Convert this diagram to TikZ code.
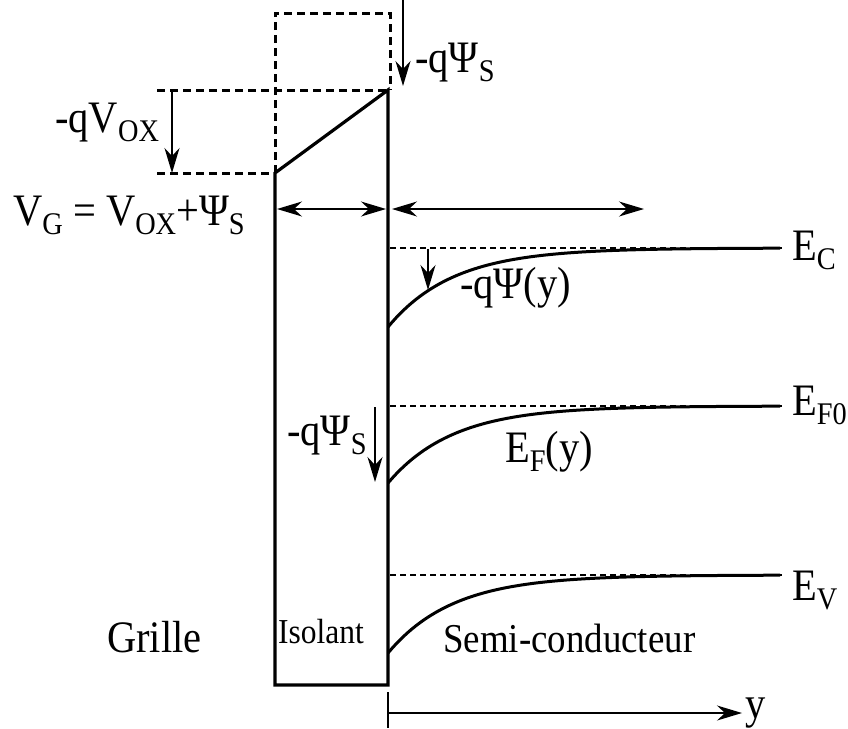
\documentclass[tikz,border=0pt]{standalone}
\usepackage{fontspec}
\setmainfont[FakeStretch=0.9]{Liberation Serif}
\usetikzlibrary{arrows.meta}
\newcommand\sbx[1]{\raisebox{-0.22em}{\scalebox{0.7}{#1}}}
\begin{document}
\begin{tikzpicture}[x=1pt,y=-1pt,
  wall/.style={line width=3.2pt, line join=miter},
  dline/.style={line width=3pt, dash pattern=on 8pt off 5pt},
  lvl/.style={line width=2.6pt, dash pattern=on 6pt off 4pt},
  band/.style={line width=3pt},
  tip/.style={},
  arr/.style={line width=1.5pt, -{Stealth[length=25pt,width=15pt,inset=8pt]}},
  darr/.style={line width=1.5pt, {Stealth[length=25pt,width=15pt,inset=8pt]}-{Stealth[length=25pt,width=15pt,inset=8pt]}},
  lbl/.style={inner sep=0pt, anchor=base west, font=\fontsize{45}{45}\selectfont},
]
\useasboundingbox (0,0) rectangle (848,728);
% key coordinates
\coordinate (bl) at (275,685);
\coordinate (br) at (388,685);
\coordinate (gl) at (275,173);
\coordinate (gr) at (388,90);
\coordinate (tl) at (275,13);
\coordinate (tr) at (390,13);
\coordinate (tri) at (390,90);
\coordinate (vl1) at (157,90);
\coordinate (vl2) at (157,173);
% dashed construction lines
\draw[dline] (vl1) -- (tri);
\draw[dline] (vl2) -- (gl);
\draw[dline] (gl) -- (tl) -- (tr) -- (tri);
% insulator
\draw[wall] (gl) -- (gr) -- (br) -- (bl) -- cycle;
% band levels
\coordinate (ec0) at (390,248); \coordinate (ec1) at (782,248);
\coordinate (ef0) at (390,406); \coordinate (ef1) at (782,406);
\coordinate (ev0) at (390,575); \coordinate (ev1) at (782,575);
\draw[lvl] (ec0) -- (ec1);
\draw[lvl] (ef0) -- (ef1);
\draw[lvl] (ev0) -- (ev1);
\draw[band] plot[domain=388:780, samples=100] (\x, {248+79*exp(-(\x-388)/65)});
\draw[band] plot[domain=388:780, samples=100] (\x, {406+77*exp(-(\x-388)/65)});
\draw[band] plot[domain=388:780, samples=100] (\x, {575+78*exp(-(\x-388)/65)});
% arrows
\coordinate (a1s) at (172,90); \coordinate (a1e) at (172,173);
\draw[arr] (a1s) -- (a1e);
\coordinate (a2s) at (403,0); \coordinate (a2e) at (403,86);
\draw[arr] (a2s) -- (a2e);
\coordinate (a3s) at (277,209); \coordinate (a3e) at (386,209);
\draw[darr] (a3s) -- (a3e);
\coordinate (a4s) at (392,209); \coordinate (a4e) at (644,209);
\draw[darr] (a4s) -- (a4e);
\coordinate (a5s) at (428,249); \coordinate (a5e) at (428,290);
\draw[arr] (a5s) -- (a5e);
\coordinate (a6s) at (375,407); \coordinate (a6e) at (375,482);
\draw[arr] (a6s) -- (a6e);
% y axis
\coordinate (yt0) at (388,692); \coordinate (yt1) at (388,728);
\draw[line width=1.5pt] (yt0) -- (yt1);
\coordinate (ya0) at (388,713); \coordinate (ya1) at (742,713);
\draw[arr] (ya0) -- (ya1);
% labels
\node[lbl] (lvox) at (55,132) {-qV\sbx{OX}};
\node[lbl] (lpsit) at (415,72) {-qΨ\sbx{S}};
\node[lbl] (lvg) at (13,225) {V\sbx{G} = V\sbx{OX}+Ψ\sbx{S}};
\node[lbl] (lec) at (792,260) {E\sbx{C}};
\node[lbl] (lpsiy) at (460,298) {-qΨ(y)};
\node[lbl] (lef0) at (792,415) {E\sbx{F0}};
\node[lbl] (lpsim) at (287,445) {-qΨ\sbx{S}};
\node[lbl] (lefy) at (505,462) {E\sbx{F}(y)};
\node[lbl] (lev) at (792,600) {E\sbx{V}};
\node[lbl] (lgr) at (107,652) {Grille};
\node[lbl, font=\fontsize{35}{35}\selectfont] (liso) at (278,643) {Isolant};
\node[lbl, font=\fontsize{41}{41}\selectfont] (lsc) at (443,652) {Semi-conducteur};
\node[lbl] (ly) at (745,718) {y};
\end{tikzpicture}
\end{document}
